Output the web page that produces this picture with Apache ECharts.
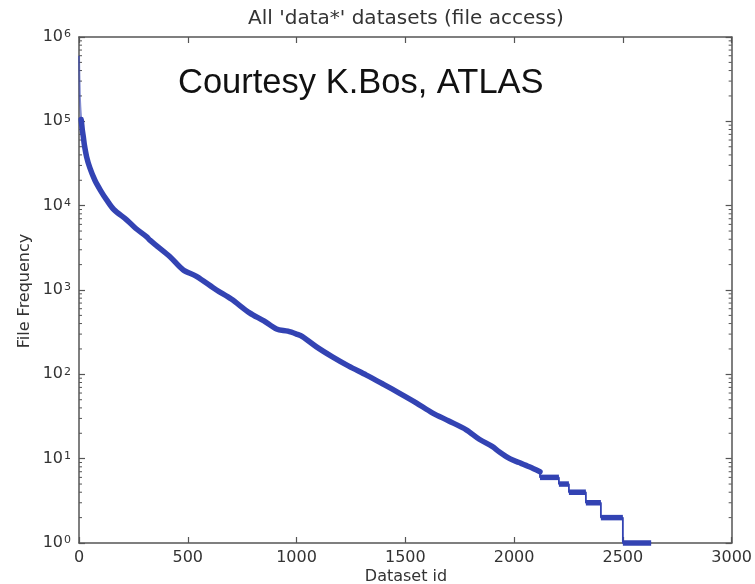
<!DOCTYPE html>
<html>
<head>
<meta charset="utf-8">
<script src="https://cdn.jsdelivr.net/npm/echarts@6/dist/echarts.min.js"></script>
<style>
  html, body { margin: 0; padding: 0; background: #ffffff; }
  #chart { width: 755px; height: 584px; }
</style>
</head>
<body>
<div id="chart"></div>
<script>
// File access frequency of every 'data*' dataset, ranked by id (most accessed first)

// First few datasets: very steep, sparse head of the distribution
const headPoints = [
  [0, 600000], [1, 420000], [2, 320000], [3, 250000], [4, 190000],
  [6, 150000], [8, 125000], [10, 105000]
];

// Main body of the ranked curve
const curvePoints = [
  [10, 105000], [12, 95000], [15, 80000], [20, 65000], [25, 52000], [35, 38000],
  [50, 28000], [73, 20000], [100, 15000], [127, 11700], [160, 9000], [219, 6800],
  [260, 5400], [310, 4300], [326, 3900], [360, 3300], [417, 2500], [478, 1740],
  [540, 1450], [632, 1000], [700, 780], [784, 535], [850, 430], [908, 345],
  [960, 325], [1000, 300], [1027, 280], [1090, 213], [1165, 161], [1240, 125],
  [1321, 98], [1400, 76], [1472, 60], [1550, 46], [1624, 35], [1700, 28],
  [1780, 22], [1840, 17], [1899, 14], [1933, 12], [1980, 10], [2023, 9],
  [2070, 8], [2119, 7]
];

// Low-count tail: [first id, last id, access count]
const tailSteps = [
  [2119, 2206, 6], [2206, 2252, 5], [2252, 2330, 4],
  [2330, 2399, 3], [2399, 2500, 2], [2500, 2630, 1]
];

// Axis ticks
const xTicks = [0, 500, 1000, 1500, 2000, 2500, 3000];
const yExponents = [0, 1, 2, 3, 4, 5, 6];
const minorMultipliers = [2, 3, 4, 5, 6, 7, 8, 9];

const lineColor = '#3343b3';
const frameColor = '#555555';
const textColor = '#333333';
const mplFont = '"DejaVu Sans", sans-serif';

const xMin = xTicks[0];
const xMax = xTicks[xTicks.length - 1];
const yMin = Math.pow(10, yExponents[0]);
const yMax = Math.pow(10, yExponents[yExponents.length - 1]);

// thin connector through the tail steps (vertical drops)
const tailLine = [curvePoints[curvePoints.length - 1]];
tailSteps.forEach(s => { tailLine.push([s[0], s[2]]); tailLine.push([s[1], s[2]]); });

// minor log ticks on the left/right frame
const minorTicks = [];
yExponents.slice(0, -1).forEach(e => {
  minorMultipliers.forEach(m => minorTicks.push([xMin, m * Math.pow(10, e)]));
});

const chart = echarts.init(document.getElementById('chart'), null, { renderer: 'canvas' });

const axisCommon = {
  axisLine: { show: true, onZero: false, lineStyle: { color: frameColor, width: 1.5 } },
  axisTick: { show: true, inside: true, length: 6, lineStyle: { color: frameColor, width: 1.2 } },
  splitLine: { show: false }
};

const option = {
  backgroundColor: '#ffffff',
  animation: false,
  grid: { left: 79, right: 22, top: 37, bottom: 41, containLabel: false },
  xAxis: [
    Object.assign({
      type: 'value', position: 'bottom', min: xMin, max: xMax, interval: 500,
      axisLabel: { color: textColor, fontFamily: mplFont, fontSize: 16, margin: 7,
                   formatter: v => String(v) }
    }, axisCommon),
    Object.assign({
      type: 'value', position: 'top', min: xMin, max: xMax, interval: 500,
      axisLabel: { show: false }
    }, axisCommon)
  ],
  yAxis: [
    Object.assign({
      type: 'log', logBase: 10, position: 'left', min: yMin, max: yMax, splitNumber: 6,
      axisLabel: {
        margin: 8,
        formatter: v => '{b|10}{s|' + Math.round(Math.log10(v)) + '}',
        rich: {
          b: { color: textColor, fontFamily: mplFont, fontSize: 16 },
          s: { color: textColor, fontFamily: mplFont, fontSize: 11, verticalAlign: 'top', padding: [0, 0, 0, 1] }
        }
      }
    }, axisCommon),
    Object.assign({
      type: 'log', logBase: 10, position: 'right', min: yMin, max: yMax, splitNumber: 6,
      axisLabel: { show: false }
    }, axisCommon)
  ],
  series: [
    {
      type: 'custom', name: 'minor ticks', silent: true, clip: false, z: 1,
      xAxisIndex: 0, yAxisIndex: 0,
      data: minorTicks,
      renderItem: (params, api) => {
        const l = api.coord([xMin, api.value(1)]);
        const r = api.coord([xMax, api.value(1)]);
        const st = { stroke: frameColor, lineWidth: 1 };
        return {
          type: 'group',
          children: [
            { type: 'line', shape: { x1: l[0], y1: l[1], x2: l[0] + 3, y2: l[1] }, style: st },
            { type: 'line', shape: { x1: r[0], y1: r[1], x2: r[0] - 3, y2: r[1] }, style: st }
          ]
        };
      }
    },
    {
      type: 'line', name: 'head', data: headPoints, showSymbol: false, clip: false, z: 3,
      lineStyle: { color: lineColor, width: 2, opacity: 0.6 }
    },
    {
      type: 'line', name: 'body', data: curvePoints, showSymbol: false, clip: false, z: 3,
      smooth: 0.3,
      lineStyle: { color: lineColor, width: 5.5, cap: 'round', join: 'round' }
    },
    {
      type: 'line', name: 'tail', data: tailLine, showSymbol: false, clip: false, z: 3,
      lineStyle: { color: lineColor, width: 1.8 }
    },
    {
      type: 'custom', name: 'tail steps', silent: true, clip: false, z: 3,
      data: tailSteps,
      encode: { x: [0, 1], y: 2 },
      renderItem: (params, api) => {
        const a = api.coord([api.value(0), api.value(2)]);
        const b = api.coord([api.value(1), api.value(2)]);
        return {
          type: 'line',
          shape: { x1: a[0], y1: a[1], x2: b[0], y2: b[1] },
          style: { stroke: lineColor, lineWidth: 5.5 }
        };
      }
    }
  ],
  graphic: [
    {
      type: 'text', x: 406, y: 19, silent: true,
      style: { text: "All 'data*' datasets (file access)", fill: textColor, font: '20px ' + mplFont,
               textAlign: 'center', textVerticalAlign: 'middle' }
    },
    {
      type: 'text', x: 178, y: 83, silent: true,
      style: { text: 'Courtesy K.Bos, ATLAS', fill: '#111111', font: '34.5px "Liberation Sans", Arial, sans-serif',
               textAlign: 'left', textVerticalAlign: 'middle' }
    },
    {
      type: 'text', x: 406, y: 577, silent: true,
      style: { text: 'Dataset id', fill: textColor, font: '16px ' + mplFont,
               textAlign: 'center', textVerticalAlign: 'middle' }
    },
    {
      type: 'text', x: 25, y: 291, rotation: Math.PI / 2, silent: true,
      style: { text: 'File Frequency', fill: textColor, font: '16px ' + mplFont,
               textAlign: 'center', textVerticalAlign: 'middle' }
    }
  ]
};

chart.setOption(option);
</script>
</body>
</html>
